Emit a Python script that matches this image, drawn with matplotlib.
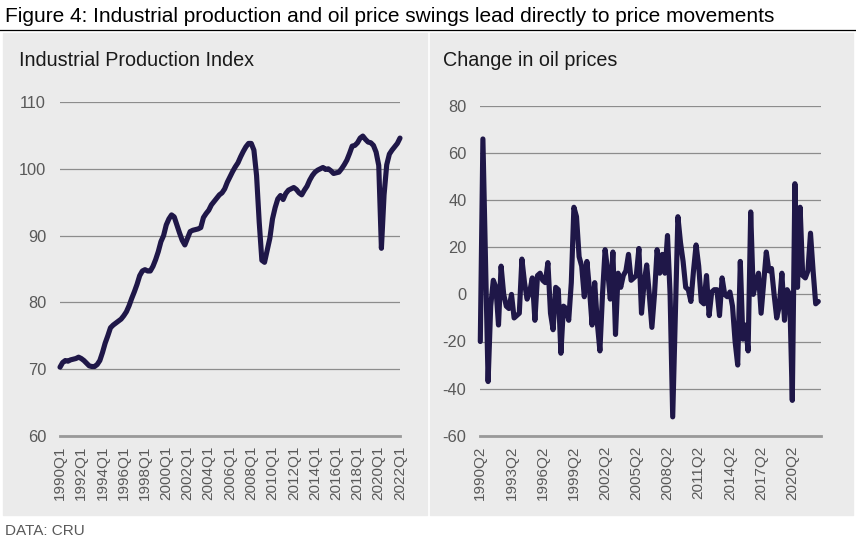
import matplotlib
matplotlib.use("Agg")
import matplotlib.pyplot as plt
from matplotlib.patches import Rectangle

plt.rcParams['font.family'] = ['Liberation Sans', 'DejaVu Sans']
plt.rcParams['axes.unicode_minus'] = False

# Industrial Production Index, quarterly 1990Q1 - 2022Q1
ip_values = [
    70.3, 71.0, 71.3, 71.2, 71.4, 71.5, 71.6, 71.8, 71.6, 71.3,
    70.9, 70.5, 70.4, 70.4, 70.7, 71.3, 72.5, 73.9, 75.0, 76.2,
    76.6, 76.9, 77.2, 77.5, 78.0, 78.6, 79.5, 80.6, 81.6, 82.7,
    84.0, 84.7, 84.9, 84.7, 84.7, 85.4, 86.4, 87.6, 89.1, 90.0,
    91.6, 92.5, 93.1, 92.8, 91.6, 90.4, 89.3, 88.6, 89.6, 90.6,
    90.8, 90.9, 91.0, 91.2, 92.7, 93.3, 93.8, 94.6, 95.1, 95.6,
    96.1, 96.4, 97.0, 98.0, 98.8, 99.6, 100.3, 100.9, 101.8, 102.6,
    103.3, 103.8, 103.8, 102.8, 99.0, 92.0, 86.3, 86.0, 87.8, 89.6,
    92.5, 94.2, 95.5, 96.0, 95.4, 96.3, 96.8, 97.0, 97.2, 96.9,
    96.4, 96.1, 96.8, 97.4, 98.3, 99.0, 99.5, 99.8, 100.0, 100.2,
    99.9, 100.0, 99.7, 99.3, 99.4, 99.5, 100.0, 100.6, 101.3, 102.3,
    103.4, 103.5, 103.9, 104.6, 104.9, 104.4, 104.0, 103.9, 103.5, 102.5,
    100.5, 88.1, 96.1, 100.6, 102.2, 102.8, 103.3, 103.8, 104.6,
]
ip_start_year = 1990

# Change in oil prices (%), quarterly 1990Q2 - 2022Q4
oil_values = [
    -20, 66, 15, -37, -5, 6, 3, -13, 12, 0,
    -5, -6, 0, -10, -9, -8, 15, 5, -2, 1,
    7, -11, 8, 9, 6, 5, 13.5, -8, -15, 3,
    2, -25, -5, -6, -11, 5, 37, 33, 16, 12,
    -1, 14, 2, -13, 5, -12, -24, 0, 19, 10,
    -2, 18, -17, 9, 3, 8, 10, 17, 6, 7,
    8, 19.5, -8, 5, 12.5, 0, -14, 0, 19, 9,
    17, 9, 25, 0, -52, -10, 33, 22, 14, 3,
    2, -3, 10, 21, 12, -3, -4, 8, -9, 1,
    2, 2, -9, 7, 0, -1, 1, -5, -20, -30,
    14, -19, -13, -24, 35, 0, 5, 9, -8, 5,
    18, 10, 11, 0, -10, -5, 9, -11, 2, 0,
    -45, 47, 3, 37, 8, 7, 10, 26, 10, -4,
    -3,
]

ip_labels = []
for i in range(len(ip_values)):
    ip_labels.append(str(ip_start_year + i // 4) + "Q" + str(i % 4 + 1))
oil_labels = []
for i in range(len(oil_values)):
    q = i + 1
    oil_labels.append(str(1990 + q // 4) + "Q" + str(q % 4 + 1))

W, H = 856, 542
line_color = '#1f1748'
grid_color = '#8c8c8c'
tick_color = '#595959'
panel_color = '#ebebeb'

fig = plt.figure(figsize=(W / 100, H / 100), dpi=100)

# background panels and title rule
fig.patches.append(Rectangle((3 / W, 1 - 515 / H), 424 / W, 482 / H,
                             transform=fig.transFigure, color=panel_color, zorder=-1))
fig.patches.append(Rectangle((430 / W, 1 - 515 / H), 423 / W, 482 / H,
                             transform=fig.transFigure, color=panel_color, zorder=-1))
fig.add_artist(plt.Line2D([0, 1], [1 - 29.5 / H, 1 - 29.5 / H],
                          transform=fig.transFigure, color='black', lw=0.9))

fig.text(5 / W, 1 - 16 / H,
         "Figure 4: Industrial production and oil price swings lead directly to price movements",
         fontsize=15, va='center', ha='left', color='black')
fig.text(5 / W, 1 - 531 / H, "DATA: CRU", fontsize=11, va='center', ha='left',
         color=tick_color)
fig.text(19 / W, 1 - 61 / H, "Industrial Production Index", fontsize=14.2,
         va='center', ha='left', color='#1a1a1a')
fig.text(443 / W, 1 - 61 / H, "Change in oil prices", fontsize=14.2,
         va='center', ha='left', color='#1a1a1a')


def style(ax):
    ax.set_facecolor('none')
    ax.set_zorder(2)
    for s in ['top', 'right', 'left']:
        ax.spines[s].set_visible(False)
    ax.spines['bottom'].set_color('#999999')
    ax.spines['bottom'].set_linewidth(2)
    ax.grid(axis='y', color=grid_color, lw=0.9)
    ax.set_axisbelow(True)
    ax.tick_params(axis='both', length=0, colors=tick_color, labelsize=11.8)
    ax.tick_params(axis='y', pad=10)
    ax.tick_params(axis='x', pad=7, labelsize=11, labelrotation=90)


# left chart
ax1 = fig.add_axes([60 / W, 1 - 436 / H, 340 / W, 334 / H])
style(ax1)
ax1.plot(range(len(ip_values)), ip_values, color=line_color, lw=3.7,
         solid_capstyle='round', solid_joinstyle='round', clip_on=False)
ax1.set_xlim(0, len(ip_values) - 1)
ax1.set_ylim(60, 110)
ax1.set_yticks([60, 70, 80, 90, 100, 110])
ax1.set_xticks(range(0, len(ip_values), 8))
ax1.set_xticklabels(ip_labels[::8])

# right chart
ax2 = fig.add_axes([480.3 / W, 1 - 435.7 / H, 340.6 / W, 329.7 / H])
style(ax2)
ax2.plot(range(len(oil_values)), oil_values, color=line_color, lw=3.7,
         solid_capstyle='round', solid_joinstyle='round', clip_on=False)
ax2.set_xlim(0, 131)
ax2.set_ylim(-60, 80)
ax2.set_yticks(range(-60, 81, 20))
ax2.set_xticks(range(0, len(oil_values), 12))
ax2.set_xticklabels(oil_labels[::12])

fig.savefig("out.png", dpi=100)
